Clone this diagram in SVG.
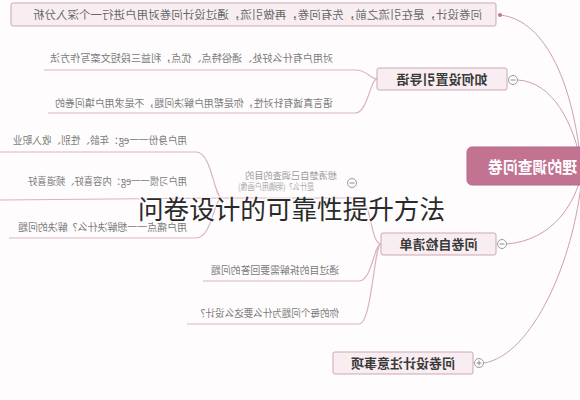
<svg xmlns="http://www.w3.org/2000/svg" width="580" height="400" viewBox="0 0 580 400">
<style>
.bg{fill:#fefcfc}
.box{fill:#f8eef1;stroke:#cfa6b3;stroke-width:1}
.root{fill:#c27391;stroke:#b8678a;stroke-width:1}
.t{font-family:"Noto Sans CJK SC","Noto Sans",sans-serif}
.lbl{font-size:13px;font-weight:bold;fill:#3a3a3a}
.rt{font-size:16px;font-weight:bold;fill:#ffffff}
.sub{font-size:10px;fill:#7a7a7a}
.note{font-size:9px;fill:#9a9a9a}
.top{font-size:11.5px;fill:#666}
.conn{fill:none;stroke:#cda0b0;stroke-width:1}
.under{fill:none;stroke:#d9b3c0;stroke-width:1.2}
.tog{fill:#fff;stroke:#9a9a9a;stroke-width:1}
.togl{stroke:#8a8a8a;stroke-width:1}
.title{font-family:"Noto Sans CJK SC",sans-serif;font-size:26px;fill:#2a2a2a}
</style>
<rect class="bg" x="0" y="0" width="580" height="400"/>
<g id="connectors">
  <path class="conn" d="M500,15 C548,20 574,90 581,165"/>
  <path class="conn" d="M518,80 C552,82 574,122 582,168"/>
  <path class="conn" d="M507,244 C552,240 575,205 582,172"/>
  <path class="conn" d="M484,363 C532,355 574,262 582,176"/>
  <path class="under" d="M44,70 L355,70 C368,70 370,79 377,79"/>
  <path class="under" d="M48,113 L355,113 C368,113 370,79 377,79"/>
  <path class="under" d="M381,244 C370,244 372,198 358,198 L222,198"/>
  <path class="under" d="M0,152 L196,152 C212,152 214,198 222,198"/>
  <path class="under" d="M0,200 L222,198"/>
  <path class="under" d="M9,238 L196,238 C212,238 214,198 222,198"/>
  <path class="under" d="M203,281 L359,281 C372,281 374,244 381,244"/>
  <path class="under" d="M187,324 L359,324 C372,324 374,244 381,244"/>
</g>
<g id="root">
  <rect class="root" x="467" y="147" width="130" height="38" rx="5"/>
  <text class="t rt" x="488" y="173" text-anchor="end" textLength="89" lengthAdjust="spacingAndGlyphs" transform="matrix(-1 0 0 1 976 0)">理的调查问卷</text>
</g>
<g id="node-top">
  <rect class="box" x="11" y="3" width="485" height="23" rx="2"/>
  <circle cx="500" cy="15" r="2" fill="#c27391"/>
  <text class="t top" x="257.5" y="19" text-anchor="middle" textLength="449" lengthAdjust="spacingAndGlyphs" transform="matrix(-1 0 0 1 515 0)">问卷设计，是在引流之前，先有问卷，再做引流，通过设计问卷对用户进行一个深入分析</text>
</g>
<g id="node-guide">
  <rect class="box" x="377" y="68" width="130" height="22" rx="2"/>
  <text class="t lbl" x="442" y="84" text-anchor="middle" transform="matrix(-1 0 0 1 884 0)">如何设置引导语</text>
  <circle class="tog" cx="513" cy="80" r="4.5"/>
  <line class="togl" x1="510.5" y1="80" x2="515.5" y2="80"/>
</g>
<g id="node-guide-1">
  <text class="t sub" x="191.5" y="61.5" text-anchor="middle" textLength="283" lengthAdjust="spacingAndGlyphs" transform="matrix(-1 0 0 1 383 0)">对用户有什么好处、通俗特点、优点，利益三段短文案写作方法</text>
</g>
<g id="node-guide-2">
  <text class="t sub" x="194" y="106.5" text-anchor="middle" textLength="278" lengthAdjust="spacingAndGlyphs" transform="matrix(-1 0 0 1 388 0)">语言真诚有针对性，你是帮用户解决问题，不是求用户填问卷的</text>
</g>
<g id="node-purpose">
  <text class="t note" x="291" y="179" text-anchor="middle" textLength="92" lengthAdjust="spacingAndGlyphs" transform="matrix(-1 0 0 1 582 0)">想清楚自己调查的目的</text>
  <text class="t note" x="276" y="189.5" text-anchor="middle" textLength="76" lengthAdjust="spacingAndGlyphs" style="fill:#aaaaaa" transform="matrix(-1 0 0 1 552 0)">是什么？(明确用户画像)</text>
  <circle class="tog" cx="352" cy="183" r="4.5"/>
  <line class="togl" x1="349.5" y1="183" x2="354.5" y2="183"/>
</g>
<g id="node-purpose-1">
  <text class="t sub" x="100" y="143.5" text-anchor="middle" textLength="174" lengthAdjust="spacingAndGlyphs" transform="matrix(-1 0 0 1 200 0)">用户身份一一eg：年龄、性别、收入职业</text>
</g>
<g id="node-purpose-2">
  <text class="t sub" x="107.5" y="184.5" text-anchor="middle" textLength="159" lengthAdjust="spacingAndGlyphs" transform="matrix(-1 0 0 1 215 0)">用户习惯一一eg：内容喜好、频道喜好</text>
</g>
<g id="node-purpose-3">
  <text class="t sub" x="102.5" y="230.5" text-anchor="middle" textLength="169" lengthAdjust="spacingAndGlyphs" transform="matrix(-1 0 0 1 205 0)">用户痛点一一想解决什么？解决的问题</text>
</g>
<g id="node-check">
  <rect class="box" x="381" y="233" width="115" height="22" rx="2"/>
  <text class="t lbl" x="438.5" y="248.5" text-anchor="middle" transform="matrix(-1 0 0 1 877 0)">问卷自检清单</text>
  <circle class="tog" cx="502" cy="244" r="4.5"/>
  <line class="togl" x1="499.5" y1="244" x2="504.5" y2="244"/>
</g>
<g id="node-check-2">
  <text class="t sub" x="275" y="273.5" text-anchor="middle" textLength="128" lengthAdjust="spacingAndGlyphs" transform="matrix(-1 0 0 1 550 0)">通过目的拆解需要回答的问题</text>
</g>
<g id="node-check-3">
  <text class="t sub" x="267.5" y="316.5" text-anchor="middle" textLength="143" lengthAdjust="spacingAndGlyphs" transform="matrix(-1 0 0 1 535 0)">你的每个问题为什么要这么设计？</text>
</g>
<g id="node-notes">
  <rect class="box" x="333" y="352" width="140" height="22" rx="2"/>
  <text class="t lbl" x="403" y="367.5" text-anchor="middle" transform="matrix(-1 0 0 1 806 0)">问卷设计注意事项</text>
  <circle class="tog" cx="479" cy="363" r="4.5"/>
  <line class="togl" x1="476.5" y1="363" x2="481.5" y2="363"/>
  <line class="togl" x1="479" y1="360.5" x2="479" y2="365.5"/>
</g>
<g id="title">
  <text class="title" x="291.5" y="219" text-anchor="middle" textLength="307" lengthAdjust="spacingAndGlyphs" stroke="#ffffff" stroke-width="3" stroke-opacity="0.6" paint-order="stroke">问卷设计的可靠性提升方法</text>
</g>
</svg>
